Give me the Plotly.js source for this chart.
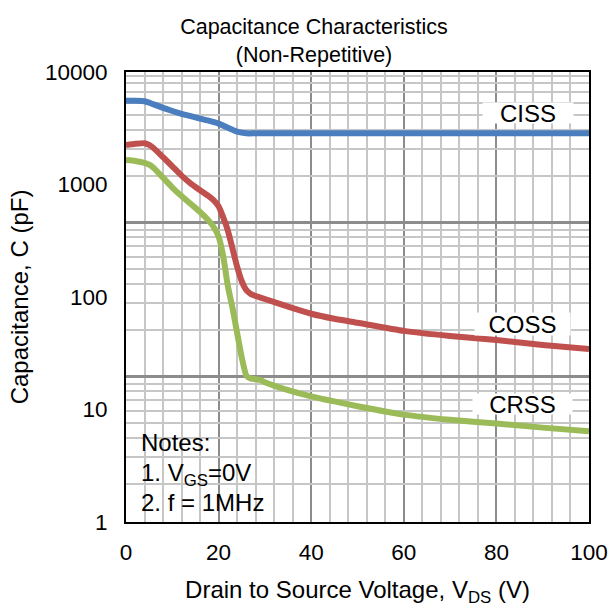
<!DOCTYPE html>
<html>
<head>
<meta charset="utf-8">
<script src="https://cdn.plot.ly/plotly-3.0.1.min.js"></script>
<style>html,body{margin:0;padding:0;background:#fff;}#chart{width:616px;height:608px;}</style>
</head>
<body>
<div id="chart"></div>
<script>
// Drain-source voltage (V)
const vdsCiss = [0, 2, 4, 5, 6, 8, 10, 12, 14, 16, 18, 20, 22, 24, 26, 28, 30, 40, 50, 60, 70, 80, 90, 100];
const ciss    = [5550, 5550, 5500, 5350, 5150, 4800, 4500, 4250, 4050, 3850, 3680, 3480, 3200, 2950, 2850, 2850, 2850, 2850, 2850, 2850, 2850, 2850, 2850, 2850];

const vdsCoss = [0, 2, 4, 5, 6, 8, 10, 12, 14, 16, 18, 19, 20, 21, 22, 23, 24, 25, 26, 27, 28, 30, 35, 40, 45, 50, 60, 70, 80, 90, 100];
const coss    = [2245, 2300, 2330, 2250, 2100, 1750, 1450, 1200, 1020, 890, 780, 720, 640, 510, 390, 270, 186, 138, 115, 106, 102, 96, 82, 71, 64, 59, 50, 45, 41.5, 37.5, 34.5];

const vdsCrss = [0, 2, 4, 5, 6, 8, 10, 12, 14, 16, 18, 19, 20, 21, 22, 23, 24, 25, 26, 27, 28, 29, 30, 35, 40, 45, 50, 60, 70, 80, 90, 100];
const crss    = [1650, 1620, 1560, 1500, 1400, 1150, 940, 790, 670, 570, 470, 415, 345, 230, 125, 80, 48, 29, 20, 18.8, 18.6, 18.3, 17.5, 14.9, 13.1, 11.8, 10.7, 9.0, 8.1, 7.5, 6.9, 6.4];

const yTickVals = [1, 10, 100, 1000, 10000];
const yTickText = ['1', '10', '100', '1000', '10000'];
const xTickVals = [0, 20, 40, 60, 80, 100];

// background chart-paper grid (independent log ruling)
const gridMinor = [2,3,4,5,6,7,8,9,20,30,40,50,60,70,80,90,200,300,400,500,600,700,800,900];
const gridMajor = [10, 100];

const FONT = 'Liberation Sans, Arial, Helvetica, sans-serif';
const L = 126, R = 589, T = 72, B = 522;
const W = 616, H = 608;
const px = v => (v - L) / (R - L);      // pixel -> paper x
const py = v => (B - v) / (B - T);      // pixel -> paper y

const lineStyle = (c) => ({color: c, width: 6, shape: 'spline', smoothing: 0.5});

const traces = [
  {x: [], y: [], yaxis: 'y2', mode: 'lines', showlegend: false, hoverinfo: 'skip'},
  {x: [], y: [], yaxis: 'y3', mode: 'lines', showlegend: false, hoverinfo: 'skip'},
  {x: vdsCiss, y: ciss, mode: 'lines', name: 'CISS', line: lineStyle('#4a7ebf')},
  {x: vdsCoss, y: coss, mode: 'lines', name: 'COSS', line: lineStyle('#c0504d')},
  {x: vdsCrss, y: crss, mode: 'lines', name: 'CRSS', line: lineStyle('#9bbb59')}
];

const gridRange = [0.055, 2.977];
const lab = (t, x, y, w, h) => ({text: t, xref: 'paper', yref: 'paper', x: px(x), y: py(y),
  xanchor: 'center', yanchor: 'middle', width: w, height: h,
  bgcolor: '#fff', borderpad: 0, showarrow: false, font: {family: FONT, size: 24, color: '#000'}});
const note = (t, y) => ({text: t, xref: 'paper', yref: 'paper', x: px(139), y: py(y),
  xanchor: 'left', yanchor: 'middle', showarrow: false, font: {family: FONT, size: 24, color: '#000'}});

const layout = {
  width: W, height: H,
  margin: {l: L, r: W - R, t: T, b: H - B, pad: 0},
  paper_bgcolor: '#fff', plot_bgcolor: '#fff',
  showlegend: false,
  font: {family: FONT, size: 22, color: '#000'},
  title: {
    text: 'Capacitance Characteristics<br>(Non-Repetitive)',
    font: {family: FONT, size: 21.5, color: '#000'},
    x: 314 / W, xref: 'container', xanchor: 'center', y: 1 - 34 / H, yref: 'container', yanchor: 'middle'
  },
  xaxis: {
    range: [0, 100], tickvals: xTickVals,
    showgrid: true, gridcolor: '#8c8c8c', gridwidth: 2,
    minor: {dtick: 4, tick0: 0, showgrid: true, gridcolor: '#c6c6c6', gridwidth: 2, ticks: ''},
    ticks: '', ticklabelstandoff: 9,
    showline: true, linecolor: '#000', linewidth: 2, mirror: true,
    zeroline: false,
    tickfont: {family: FONT, size: 22.5, color: '#000'},
    title: {text: 'Drain to Source Voltage, V<sub>DS</sub> (V)', font: {family: FONT, size: 24, color: '#000'}, standoff: 17}
  },
  yaxis: {
    type: 'log', range: [0, 4], tickvals: yTickVals, ticktext: yTickText,
    showgrid: false, ticks: '', ticklabelstandoff: 12,
    showline: true, linecolor: '#000', linewidth: 2, mirror: true,
    zeroline: false,
    tickfont: {family: FONT, size: 22.5, color: '#000'},
    title: {text: 'Capacitance, C (pF)', font: {family: FONT, size: 24, color: '#000'}, standoff: 10}
  },
  yaxis2: {
    type: 'log', range: gridRange, overlaying: 'y', tickvals: gridMinor,
    showgrid: true, gridcolor: '#c6c6c6', gridwidth: 2,
    showticklabels: false, ticks: '', showline: false, zeroline: false
  },
  yaxis3: {
    type: 'log', range: gridRange, overlaying: 'y', tickvals: gridMajor,
    showgrid: true, gridcolor: '#8c8c8c', gridwidth: 3,
    showticklabels: false, ticks: '', showline: false, zeroline: false
  },
  shapes: [
    {type: 'rect', xref: 'paper', yref: 'paper', x0: px(127), x1: px(287), y0: py(518), y1: py(425),
     fillcolor: '#fff', line: {width: 0}, layer: 'between'}
  ],
  annotations: [
    lab('CISS', 528, 113, 90, 20),
    lab('COSS', 522, 324, 95, 22),
    lab('CRSS', 522, 404, 99, 20),
    note('Notes:', 442),
    note('1. V<sub>GS</sub>=0V', 474),
    note('2. f = 1MHz', 502)
  ]
};

Plotly.newPlot('chart', traces, layout, {staticPlot: true, displayModeBar: false});
</script>
</body>
</html>
